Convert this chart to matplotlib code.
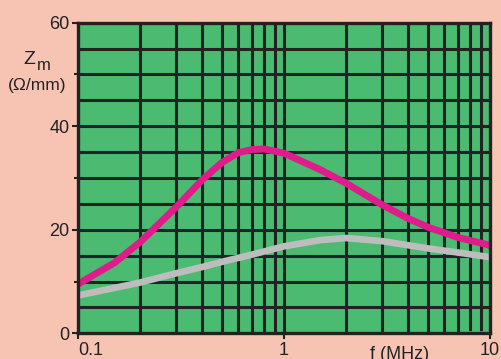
import matplotlib.pyplot as plt
import numpy as np

plt.rcParams['font.family'] = ['Liberation Sans', 'DejaVu Sans']

# frequency (MHz) and impedance (ohm/mm)
f_pink = [0.1, 0.15, 0.2, 0.3, 0.4, 0.5, 0.6, 0.7, 0.8, 1.0, 1.5, 2.0, 3.0, 4.0, 5.0, 7.0, 10.0]
z_pink = [9.5, 13.6, 17.6, 24.4, 29.6, 33.0, 34.9, 35.5, 35.6, 34.8, 31.6, 29.0, 24.8, 22.2, 20.5, 18.5, 17.0]
f_gray = [0.1, 0.2, 0.3, 0.4, 0.5, 0.7, 1.0, 1.5, 2.0, 3.0, 5.0, 7.0, 10.0]
z_gray = [7.3, 9.8, 11.6, 12.8, 13.8, 15.2, 16.8, 18.0, 18.4, 17.8, 16.4, 15.6, 14.7]

bg = '#f7c4b3'
green = '#4bbb72'
grid_c = '#222222'

fig = plt.figure(figsize=(5.02, 3.59), dpi=100, facecolor=bg)
ax = fig.add_axes([0.1554, 0.0716, 0.8206, 0.8652])
ax.set_facecolor(green)
ax.set_xscale('log')
ax.set_xlim(0.1, 10)
ax.set_ylim(0, 60)

# grid: every 5 on y, 1..9 per decade on x
for yv in np.arange(5, 60, 5):
    ax.axhline(yv, color=grid_c, lw=2.2, zorder=1)
for dec in [0.1, 1]:
    for k in range(2, 10):
        ax.axvline(dec * k, color=grid_c, lw=2.2, zorder=1)
ax.axvline(1, color=grid_c, lw=2.2, zorder=1)

ax.plot(f_gray, z_gray, color='#bdbdbd', lw=4.8, solid_capstyle='butt', zorder=3)
ax.plot(f_pink, z_pink, color='#e01b8c', lw=5.0, solid_capstyle='butt', zorder=4)

# small orange mark at bottom right
ax.axhline(0.25, xmin=0.935, xmax=0.998, color='#d08a3a', lw=1.2, zorder=5)

for s in ax.spines.values():
    s.set_color(grid_c)
    s.set_linewidth(2.4)
    s.set_zorder(6)

ax.set_yticks([0, 20, 40, 60])
ax.set_yticks([10, 30, 50], minor=True)
ax.set_xticks([0.1, 1, 10])
ax.set_xticklabels(['0.1', '1', '10'])
ax.xaxis.set_minor_locator(plt.NullLocator())
ax.tick_params(axis='y', which='both', direction='out', length=4, width=1.5,
               color=grid_c, labelsize=13, pad=2, labelcolor='#222222')
ax.tick_params(axis='x', which='both', direction='out', length=4, width=1.5,
               color=grid_c, labelsize=13, pad=2, labelcolor='#222222')
ax.tick_params(axis='y', which='minor', length=3)
ax.get_xticklabels()[0].set_horizontalalignment('left')

fig.text(0.0588, 0.833, 'Z', fontsize=14, ha='center', va='center', color='#222222')
fig.text(0.073, 0.805, 'm', fontsize=12, ha='left', va='baseline', color='#222222')
fig.text(0.0737, 0.763, '(Ω/mm)', fontsize=12.5, ha='center', va='center', color='#222222')
fig.text(0.795, 0.012, 'f (MHz)', fontsize=13, ha='center', va='center', color='#222222')

fig.savefig('out.png', dpi=100, facecolor=bg)
